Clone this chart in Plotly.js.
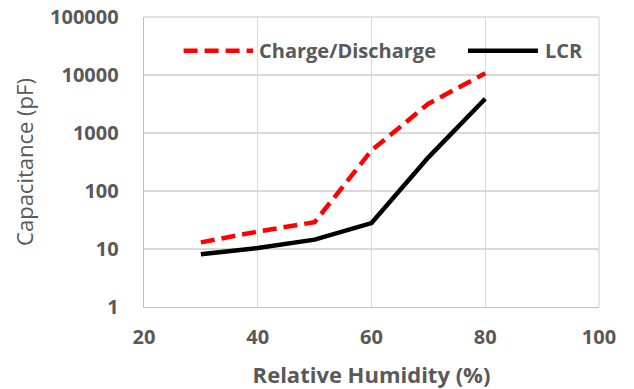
<!DOCTYPE html>
<html>
<head>
<meta charset="utf-8">
<script src="https://cdn.plot.ly/plotly-3.0.1.min.js"></script>
<style>
  html, body { margin: 0; padding: 0; background: #ffffff; }
  #chart { width: 634px; height: 389px; }
</style>
</head>
<body>
<div id="chart"></div>
<script>
// ---- data ----
const humidity = [30, 40, 50, 60, 70, 80];
const chargeDischarge = [13, 20, 29, 500, 3200, 10700];
const lcr = [8.1, 10.4, 14.5, 28, 380, 3900];

const seriesNames = ['Charge/Discharge', 'LCR'];
const xTickVals = [20, 40, 60, 80, 100];
const yTickVals = [1, 10, 100, 1000, 10000, 100000];
const yTickText = ['1', '10', '100', '1000', '10000', '100000'];

const grey = '#595959';
const tickFont = { family: 'Open Sans, sans-serif', size: 20, color: grey, weight: 'bold' };
const dashPattern = '14px,7px';

const traces = [
  {
    x: humidity, y: chargeDischarge, name: seriesNames[0],
    type: 'scatter', mode: 'lines',
    line: { color: '#FF0000', width: 4.5, dash: dashPattern },
    showlegend: false
  },
  {
    x: humidity, y: lcr, name: seriesNames[1],
    type: 'scatter', mode: 'lines',
    line: { color: '#000000', width: 4.5 },
    showlegend: false
  }
];

// custom legend (line sample + label) placed like the original
const legY = 0.884;
const layout = {
  width: 634, height: 389,
  margin: { l: 144, r: 35, t: 17, b: 82 },
  paper_bgcolor: '#ffffff', plot_bgcolor: '#ffffff',
  showlegend: false,
  xaxis: {
    range: [20, 100], tickvals: xTickVals,
    showgrid: true, gridcolor: '#d9d9d9', gridwidth: 1.3,
    zeroline: false, showline: true, linecolor: '#bfbfbf', linewidth: 1.3,
    ticks: '', ticklabelstandoff: 12,
    tickfont: tickFont,
    title: { text: 'Relative Humidity (%)', standoff: 18,
             font: { family: 'Open Sans, sans-serif', size: 22, color: grey, weight: 'bold' } }
  },
  yaxis: {
    type: 'log', range: [0, 5],
    tickvals: yTickVals, ticktext: yTickText,
    showgrid: true, gridcolor: '#d9d9d9', gridwidth: 1.3,
    zeroline: false, showline: true, linecolor: '#bfbfbf', linewidth: 1.3,
    ticks: '', ticklabelstandoff: 20,
    tickfont: tickFont,
    title: { text: 'Capacitance (pF)', standoff: 10,
             font: { family: 'Open Sans, sans-serif', size: 22, color: grey } }
  },
  shapes: [
    { type: 'line', xref: 'paper', yref: 'paper', x0: 1, x1: 1, y0: 0, y1: 1,
      line: { color: '#d9d9d9', width: 1.3 } },
    { type: 'line', xref: 'paper', yref: 'paper', x0: 0, x1: 1, y0: 1, y1: 1,
      line: { color: '#d9d9d9', width: 1.3 } },
    { type: 'line', xref: 'paper', yref: 'paper', x0: 0.087, x1: 0.240, y0: legY, y1: legY,
      line: { color: '#FF0000', width: 4.5, dash: dashPattern } },
    { type: 'line', xref: 'paper', yref: 'paper', x0: 0.712, x1: 0.866, y0: legY, y1: legY,
      line: { color: '#000000', width: 4.5 } }
  ],
  annotations: [
    { xref: 'paper', yref: 'paper', x: 0.248, y: legY, xanchor: 'left', yanchor: 'middle',
      text: seriesNames[0], showarrow: false,
      font: { family: 'Open Sans, sans-serif', size: 20, color: grey, weight: 'bold' } },
    { xref: 'paper', yref: 'paper', x: 0.878, y: legY, xanchor: 'left', yanchor: 'middle',
      text: seriesNames[1], showarrow: false,
      font: { family: 'Open Sans, sans-serif', size: 20, color: grey, weight: 'bold' } }
  ]
};

Plotly.newPlot('chart', traces, layout, { staticPlot: true, displayModeBar: false });
</script>
</body>
</html>
